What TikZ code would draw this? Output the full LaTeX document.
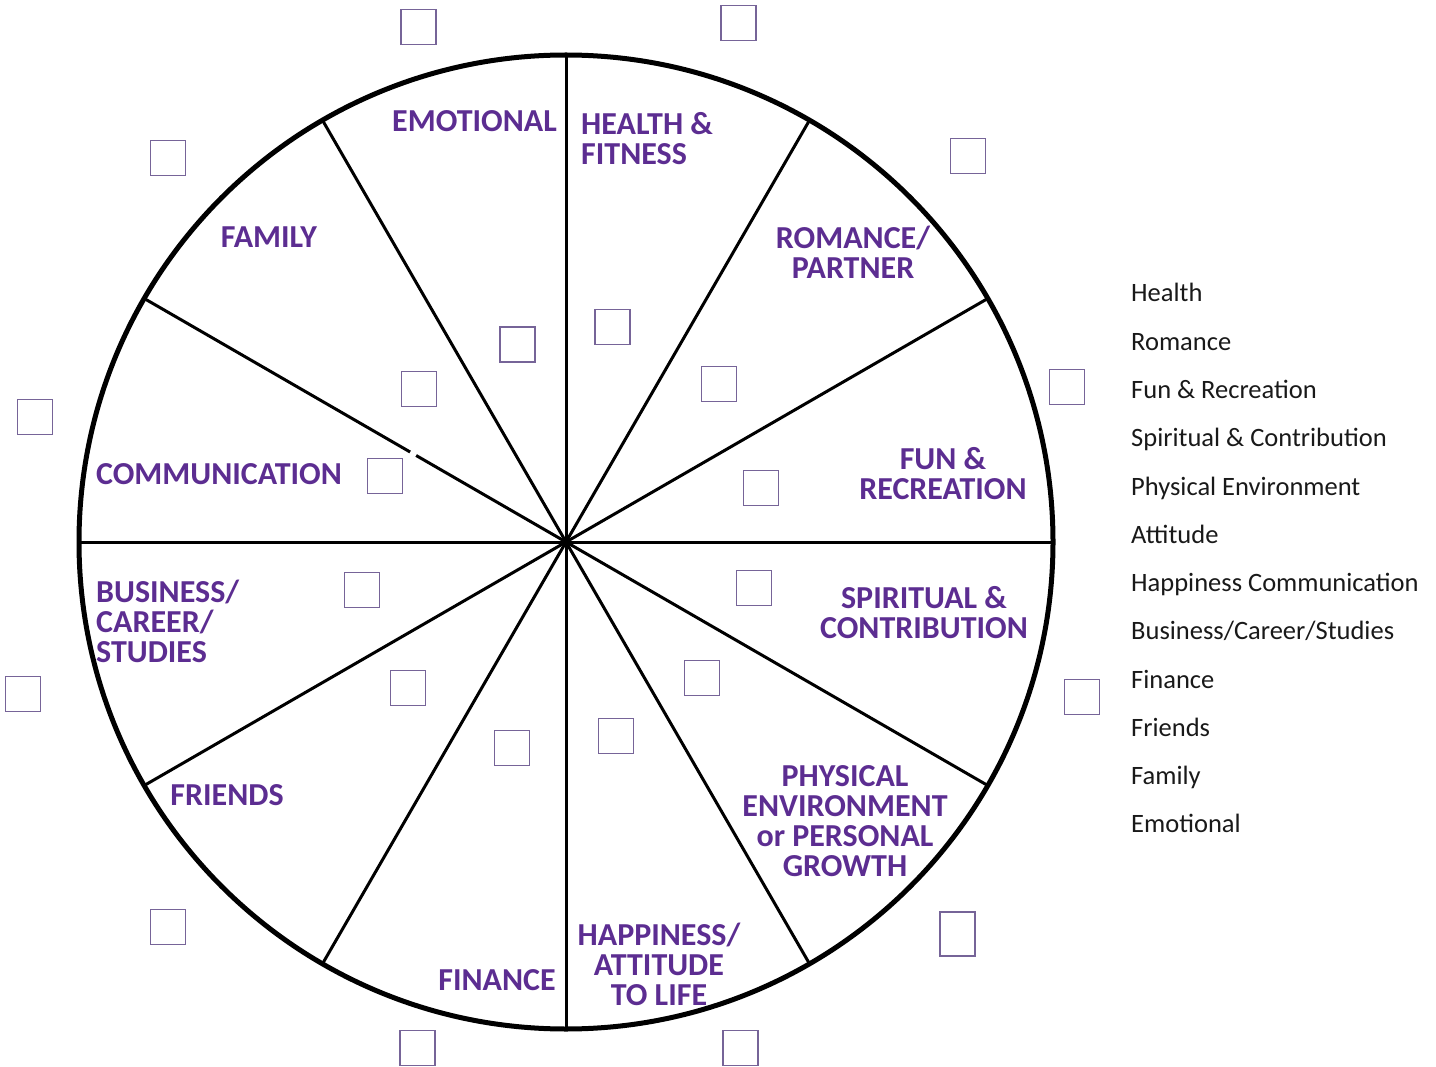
\documentclass[tikz,border=0pt]{standalone}
\usepackage{fontspec}
\setmainfont{Carlito}
\definecolor{lblpurple}{RGB}{92,45,145}
\definecolor{boxpurple}{RGB}{118,100,152}
\tikzset{
  wheelrim/.style={line width=5pt, draw=black},
  spoke/.style={line width=3pt, draw=black},
  tickbox/.style={draw=boxpurple, line width=1.8pt, minimum width=35pt, minimum height=35pt, inner sep=0pt, fill=white},
  seglabel/.style={text=lblpurple, font=\fontsize{32}{30}\selectfont\bfseries, inner sep=0pt, align=center},
  legendtext/.style={text=black!90, font=\fontsize{26.5}{26.5}\selectfont, inner sep=0pt, anchor=base west}
}
\begin{document}
\begin{tikzpicture}[x=1pt,y=-1pt]
\useasboundingbox (0,0) rectangle (1436,1067);
\coordinate (c) at (566,542);
% spokes
\foreach \a in {0,30,60,90,120,180,210,240,270,300,330}
  \draw[spoke] (c) -- ([shift={(\a:487pt)}]c);
\draw[spoke] (c) -- ([shift={(150:173pt)}]c);
\draw[spoke] ([shift={(150:180pt)}]c) -- ([shift={(150:487pt)}]c);
% rim
\draw[wheelrim] (c) circle[radius=487pt];

% segment labels
\node[seglabel] (emo) at (474.5,121) {EMOTIONAL};
\node[seglabel, anchor=west, align=left] (hea) at (581,139) {HEALTH \&\\FITNESS};
\node[seglabel] (fam) at (269,237) {FAMILY};
\node[seglabel] (rom) at (853,252) {ROMANCE/\\PARTNER};
\node[seglabel] (com) at (219,474) {COMMUNICATION};
\node[seglabel] (fun) at (943,473.5) {FUN \&\\RECREATION};
\node[seglabel, anchor=west, align=left] (bus) at (96,621) {BUSINESS/\\CAREER/\\STUDIES};
\node[seglabel] (spi) at (924,613) {SPIRITUAL \&\\CONTRIBUTION};
\node[seglabel] (fri) at (227,795) {FRIENDS};
\node[seglabel] (phy) at (845,821) {PHYSICAL\\ENVIRONMENT\\or PERSONAL\\GROWTH};
\node[seglabel] (fin) at (497,980) {FINANCE};
\node[seglabel] (hap) at (659,964.5) {HAPPINESS/\\ATTITUDE\\TO LIFE};

% outer boxes
\node[tickbox] (b1) at (418.5,27) {};
\node[tickbox] (b2) at (738.5,23) {};
\node[tickbox] (b3) at (168,158) {};
\node[tickbox] (b4) at (968,156) {};
\node[tickbox] (b5) at (35,417) {};
\node[tickbox] (b6) at (1067,387) {};
\node[tickbox] (b7) at (23,694) {};
\node[tickbox] (b8) at (1082,697) {};
\node[tickbox] (b9) at (168,927) {};
\node[tickbox, minimum height=44pt] (b10) at (957.5,934) {};
\node[tickbox] (b11) at (417.5,1048) {};
\node[tickbox] (b12) at (740.5,1048) {};
% inner boxes
\node[tickbox] (b13) at (517.5,344.5) {};
\node[tickbox] (b14) at (612.5,327) {};
\node[tickbox] (b15) at (419,389) {};
\node[tickbox] (b16) at (719,384) {};
\node[tickbox] (b17) at (385,476) {};
\node[tickbox] (b18) at (761,488) {};
\node[tickbox] (b19) at (362,590) {};
\node[tickbox] (b20) at (754,588) {};
\node[tickbox] (b21) at (408,688) {};
\node[tickbox] (b22) at (702,678) {};
\node[tickbox] (b23) at (512,748) {};
\node[tickbox] (b24) at (616,736) {};

% legend
\node[legendtext] (l1) at (1131,302) {Health};
\node[legendtext] (l2) at (1131,350.25) {Romance};
\node[legendtext] (l3) at (1131,398.5) {Fun \& Recreation};
\node[legendtext] (l4) at (1131,446.75) {Spiritual \& Contribution};
\node[legendtext] (l5) at (1131,495) {Physical Environment};
\node[legendtext] (l6) at (1131,543.25) {Attitude};
\node[legendtext] (l7) at (1131,591.5) {Happiness Communication};
\node[legendtext] (l8) at (1131,639.75) {Business/Career/Studies};
\node[legendtext] (l9) at (1131,688) {Finance};
\node[legendtext] (l10) at (1131,736.25) {Friends};
\node[legendtext] (l11) at (1131,784.5) {Family};
\node[legendtext] (l12) at (1131,832.75) {Emotional};
\end{tikzpicture}
\end{document}
